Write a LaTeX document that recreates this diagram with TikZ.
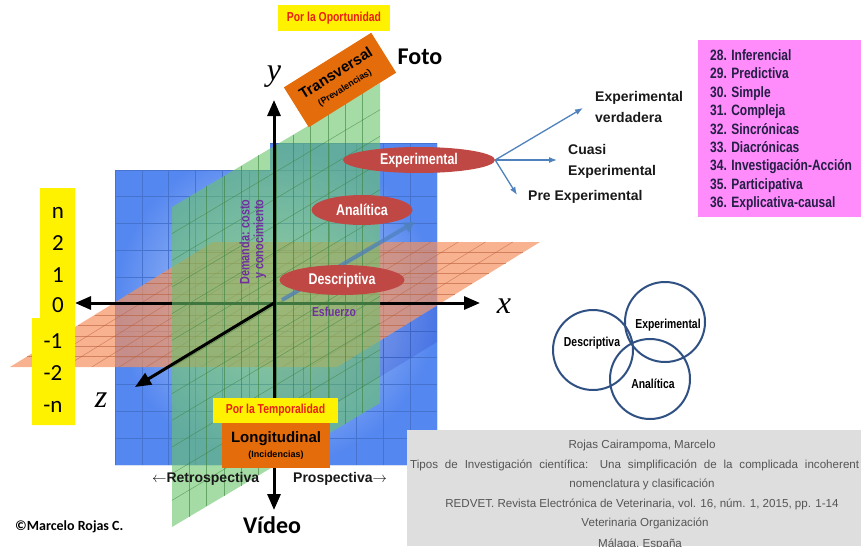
\documentclass[tikz,border=0pt]{standalone}
\usepackage{fontspec}
\setmainfont{Liberation Sans}
\newfontfamily\narrowfont[FakeStretch=0.8]{Liberation Sans}
\newfontfamily\calibfont{Carlito}
\newfontfamily\serifit{Liberation Serif}
\usetikzlibrary{arrows.meta,shapes.geometric,calc}

\definecolor{planeblue}{RGB}{85,135,240}
\definecolor{planebluec}{RGB}{210,225,247}
\definecolor{gridblue}{RGB}{70,115,205}
\definecolor{planegreen}{RGB}{105,195,105}
\definecolor{gridgreen}{RGB}{60,130,60}
\definecolor{planeorange}{RGB}{245,145,95}
\definecolor{gridorange}{RGB}{185,95,60}
\definecolor{ellred}{RGB}{192,72,68}
\definecolor{boxorange}{RGB}{228,108,10}
\definecolor{labred}{RGB}{235,30,20}
\definecolor{labpurple}{RGB}{112,48,160}
\definecolor{steel}{RGB}{79,129,189}
\definecolor{listpink}{RGB}{255,140,250}
\definecolor{listtext}{RGB}{35,30,70}
\definecolor{vennblue}{RGB}{47,80,130}
\definecolor{citegray}{RGB}{222,222,222}
\definecolor{citetext}{RGB}{85,85,85}

\begin{document}
\begin{tikzpicture}[x=1pt, y=-1pt,
    ell/.style={ellipse, fill=ellred, text=white, inner sep=0pt, font=\narrowfont\bfseries\fontsize{15.5}{15.5}\selectfont},
    tagbox/.style={fill=yellow, text=labred, inner sep=0pt, font=\narrowfont\bfseries\fontsize{13}{13}\selectfont},
    typebox/.style={fill=boxorange, text=black, inner sep=0pt, align=center, font=\bfseries\fontsize{15}{16}\selectfont},
    branch/.style={inner sep=0pt, align=left, text=black!90, font=\bfseries\fontsize{14}{21}\selectfont},
    branchline/.style={steel, line width=1.3pt, -{Latex[length=8pt,width=6pt]}},
    axisline/.style={line width=3pt},
    axlabel/.style={inner sep=0pt, font=\serifit\itshape\fontsize{32}{32}\selectfont},
    numlab/.style={anchor=base, inner sep=0pt, font=\calibfont\fontsize{23}{23}\selectfont},
    purp/.style={inner sep=0pt, text=labpurple, font=\narrowfont\bfseries\fontsize{13}{14}\selectfont},
    venn/.style={circle, draw=vennblue, line width=2pt, minimum size=80pt, inner sep=0pt},
    vennlab/.style={inner sep=0pt, font=\narrowfont\bfseries\fontsize{13}{13}\selectfont},
    listitem/.style={anchor=base west, inner sep=0pt, text=listtext, font=\narrowfont\bfseries\fontsize{15}{15}\selectfont},
    cite/.style={anchor=base, inner sep=0pt, text=citetext, font=\fontsize{11.6}{12}\selectfont},
    big/.style={inner sep=0pt, font=\calibfont\bfseries\fontsize{24}{24}\selectfont}
]
    \useasboundingbox (0,0) rectangle (861,546);

    \def\bc{26.83};

    \shade[inner color=planebluec, outer color=planeblue] (115,465) -- (437,465) -- (437,143) -- (270,143) -- (270,170) -- (115,170) -- cycle;
    \begin{scope}
        \clip (115,465) -- (437,465) -- (437,143) -- (270,143) -- (270,170) -- (115,170) -- cycle;
        \foreach \k in {0,...,12} {
            \draw[gridblue, line width=0.6pt] (115 + \k*\bc, 143) -- (115 + \k*\bc, 465);
            \draw[gridblue, line width=0.6pt] (115, 465 - \k*\bc) -- (437, 465 - \k*\bc);
        }
    \end{scope}
    \fill[blue!60!black, opacity=0.12] (274,367) -- (337,367) -- (437,306) -- (437,342) -- (337,403) -- (274,403) -- cycle;

    \coordinate (o1) at (10,367);
    \coordinate (o2) at (337,367);
    \coordinate (o3) at (540,242);
    \coordinate (o4) at (213,242);
    \fill[planeorange, opacity=0.7] (o1) -- (o2) -- (o3) -- (o4) -- cycle;
    \foreach \k in {1,...,11} {
        \draw[gridorange, opacity=0.6, line width=0.5pt] ($(o1)!\k/12!(o2)$) -- ($(o4)!\k/12!(o3)$);
        \draw[gridorange, opacity=0.6, line width=0.5pt] ($(o1)!\k/12!(o4)$) -- ($(o2)!\k/12!(o3)$);
    }

    \coordinate (O) at (274,303);
    \coordinate (xl) at (75,303);
    \coordinate (xr) at (480,303);
    \coordinate (ytop) at (274,100);
    \coordinate (ybot) at (274,510);
    \coordinate (zend) at (135,387);

    \draw[axisline, {Triangle[length=16pt,width=13pt]}-{Triangle[length=16pt,width=13pt]}] (xl) -- (xr);

    \coordinate (g1) at (172,527);
    \coordinate (g2) at (380,403);
    \coordinate (g3) at (380,83);
    \coordinate (g4) at (172,207);
    \fill[planegreen, opacity=0.6] (g1) -- (g2) -- (g3) -- (g4) -- cycle;
    \foreach \k in {1,...,11} {
        \draw[gridgreen, opacity=0.6, line width=0.5pt] ($(g1)!\k/12!(g2)$) -- ($(g4)!\k/12!(g3)$);
        \draw[gridgreen, opacity=0.6, line width=0.5pt] ($(g1)!\k/12!(g4)$) -- ($(g2)!\k/12!(g3)$);
    }

    \draw[axisline, {Triangle[length=16pt,width=13pt]}-{Triangle[length=16pt,width=13pt]}] (ybot) -- (ytop);
    \draw[axisline, -{Triangle[length=16pt,width=13pt]}] (O) -- (zend);

    \coordinate (dirstart) at (282,300);
    \coordinate (dirtip) at (415,222);
    \draw[steel, opacity=0.75, line width=4pt, -{Triangle[length=11pt,width=11pt]}] (dirstart) -- (dirtip);

    \node[axlabel] (ylab) at (274,77) {y};
    \node[axlabel] (xlab) at (504,306) {x};
    \node[axlabel] (zlab) at (101,400) {z};

    \node[ell, minimum width=152pt, minimum height=26pt] (expe) at (419,160) {Experimental};
    \node[ell, minimum width=101pt, minimum height=30pt] (anal) at (362,210) {Analítica};
    \node[ell, minimum width=125pt, minimum height=30pt] (desc) at (342,280) {Descriptiva};

    \node[branch, anchor=west] (verd) at (595,107) {Experimental\\verdadera};
    \node[branch, anchor=west] (cuasi) at (568,161) {Cuasi\\Experimental};
    \node[branch, anchor=west] (pre) at (528,197) {Pre Experimental};
    \coordinate (tverd) at (583,108);
    \coordinate (tcuasi) at (557,160);
    \coordinate (tpre) at (517,195);
    \draw[branchline] (expe.east) -- (tverd);
    \draw[branchline] (expe.east) -- (tcuasi);
    \draw[branchline] (expe.east) -- (tpre);

    \node[purp, rotate=90, align=right, font=\narrowfont\bfseries\fontsize{13.5}{14}\selectfont] (demanda) at (253,242) {Demanda: costo\\y conocimiento};
    \node[purp] (esfuerzo) at (334,312) {Esfuerzo};

    \node[tagbox, minimum width=112pt, minimum height=26pt] (oport) at (334,18) {Por la Oportunidad};
    \node[typebox, rotate=32, minimum width=103pt, minimum height=47pt] (trans) at (340,80) {Transversal\\[-1pt]{\fontsize{9}{9}\selectfont (Prevalencias)}};
    \node[big] (foto) at (420,57) {Foto};

    \node[tagbox, minimum width=125pt, minimum height=25pt] (tempo) at (275.5,410.5) {Por la Temporalidad};
    \node[typebox, minimum width=108pt, minimum height=45pt] (longi) at (276,445) {Longitudinal\\[-1pt]{\fontsize{9}{9}\selectfont (Incidencias)}};
    \node[branch, anchor=west] (retro) at (152,479) {$\leftarrow$Retrospectiva};
    \node[branch, anchor=west] (prosp) at (293,479) {Prospectiva$\rightarrow$};
    \node[big] (video) at (272,525) {Vídeo};
    \node[anchor=west, inner sep=0pt, font=\calibfont\bfseries\fontsize{14}{14}\selectfont] (autor) at (15,527) {©Marcelo Rojas C.};

    \fill[yellow] (40,188) -- (75,188) -- (75,425) -- (32,425) -- (32,318) -- (40,318) -- cycle;
    \foreach \t/\yy [count=\k] in {n/218, 2/250, 1/282, 0/312} {
        \node[numlab] (up\k) at (58,\yy) {\t};
    }
    \foreach \t/\yy [count=\k] in {-1/348, -2/380, -n/412} {
        \node[numlab] (dn\k) at (53,\yy) {\t};
    }

    \node[fill=listpink, anchor=north west, minimum width=163pt, minimum height=177pt, inner sep=0pt] (lista) at (698,40) {};
    \foreach \t [count=\k] in {28. Inferencial, 29. Predictiva, 30. Simple, 31. Compleja, 32. Sincrónicas, 33. Diacrónicas, 34. Investigación-Acción, 35. Participativa, 36. Explicativa-causal} {
        \node[listitem] (item\k) at (710, 60.5 + \k*18.4 - 18.4) {\t};
    }

    \node[venn] (vdes) at (593,350) {};
    \node[venn] (vexp) at (665,322) {};
    \node[venn] (vana) at (650,379) {};
    \node[vennlab] (ldes) at (592,343) {Descriptiva};
    \node[vennlab] (lexp) at (668,325) {Experimental};
    \node[vennlab] (lana) at (653,384) {Analítica};

    \node[fill=citegray, anchor=north west, minimum width=454pt, minimum height=116pt, inner sep=0pt] (citebox) at (407,430) {};
    \begin{scope}
        \clip (407,430) rectangle (861,546);
        \node[cite] (c1) at (642,448) {Rojas Cairampoma, Marcelo};
        \node[cite, anchor=base west] (c2) at (410,468) {\makebox[449pt][s]{Tipos de Investigación científica: Una simplificación de la complicada incoherent}};
        \node[cite] (c3) at (642,487) {nomenclatura y clasificación};
        \node[cite] (c4) at (642,507) {REDVET. Revista Electrónica de Veterinaria, vol. 16, núm. 1, 2015, pp. 1-14};
        \node[cite] (c5) at (645,526) {Veterinaria Organización};
        \node[cite] (c6) at (640,547) {Málaga, España};
    \end{scope}
\end{tikzpicture}
\end{document}
